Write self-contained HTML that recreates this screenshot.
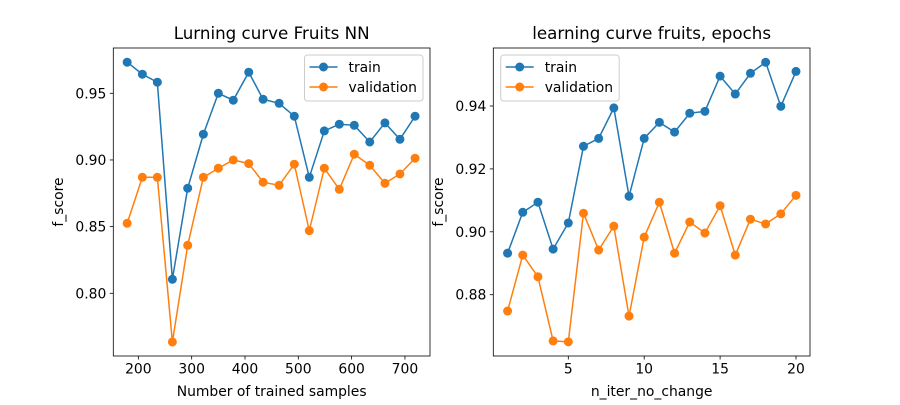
<!DOCTYPE html>
<html><head><meta charset="utf-8"><style>
body{margin:0;background:#fff}
svg{font-family:"DejaVu Sans","Liberation Sans",sans-serif}
</style></head><body>
<svg id="chart" width="900" height="400" viewBox="0 0 900 400"></svg>
<script>
const leftX=[179,207.5,235.6,263.8,292.5,321.9,350,378,407,434,464,492.5,520.6,548.8,576.9,605,634,662.5,690.6,719];
const leftTrain=[0.9733,0.9643,0.9583,0.8105,0.8788,0.9193,0.95,0.9448,0.9658,0.9455,0.9425,0.9328,0.887,0.9218,0.9268,0.926,0.9135,0.9278,0.9155,0.9328];
const leftVal=[0.8525,0.887,0.887,0.7635,0.836,0.887,0.8938,0.9,0.8973,0.8833,0.881,0.8968,0.847,0.8938,0.878,0.9043,0.896,0.8825,0.8895,0.9013];
const leftXTicks=[200,300,400,500,600,700];
const leftYTicks=[0.80,0.85,0.90,0.95];
const rightX=[1,2,3,4,5,6,7,8,9,10,11,12,13,14,15,16,17,18,19,20];
const rightTrain=[0.8932,0.9062,0.9094,0.8945,0.9028,0.9272,0.9297,0.9394,0.9113,0.9297,0.9348,0.9317,0.9377,0.9383,0.9495,0.9438,0.9504,0.9539,0.9399,0.951];
const rightVal=[0.8748,0.8926,0.8857,0.8653,0.865,0.9059,0.8942,0.9018,0.8732,0.8983,0.9094,0.8932,0.9031,0.8996,0.9083,0.8926,0.904,0.9025,0.9057,0.9116];
const rightXTicks=[5,10,15,20];
const rightYTicks=[0.88,0.90,0.92,0.94];

const NS="http://www.w3.org/2000/svg";
const svg=document.getElementById('chart');
function el(tag,attrs,parent){const e=document.createElementNS(NS,tag);for(const k in attrs)e.setAttribute(k,attrs[k]);(parent||svg).appendChild(e);return e;}

function panel(cfg){
  const g=el('g',{});
  
  
  const L=cfg.L,R=cfg.R,T=cfg.T,B=cfg.B;
  const sx=v=>L+(v-cfg.xmin)/(cfg.xmax-cfg.xmin)*(R-L);
  const sy=v=>B-(v-cfg.ymin)/(cfg.ymax-cfg.ymin)*(B-T);
  const series=[[cfg.train,'#1f77b4','train'],[cfg.val,'#ff7f0e','validation']];
  series.forEach(([ys,c,n])=>{
    const line=el('polyline',{points:cfg.xs.map((x,i)=>sx(x)+','+sy(ys[i])).join(' '),fill:'none',stroke:c,'stroke-width':1.5},g);
    
    
    cfg.xs.forEach((x,i)=>{
      const p=el('circle',{cx:sx(x),cy:sy(ys[i]),r:4.5,fill:c},g);
      
      
    });
  });
  const frame=el('rect',{x:L,y:T,width:R-L,height:B-T,fill:'none',stroke:'#000','stroke-width':0.8},g);
  
  
  cfg.xticks.forEach(v=>{
    const x=sx(v);
    el('line',{x1:x,x2:x,y1:B,y2:B+3.5,stroke:'#000','stroke-width':0.8},g);
    const t=el('text',{x:x,y:B+17.5,'text-anchor':'middle','font-size':13.9},g);
    t.textContent=String(v);
    
    
  });
  cfg.yticks.forEach(v=>{
    const y=sy(v);
    el('line',{x1:L-3.5,x2:L,y1:y,y2:y,stroke:'#000','stroke-width':0.8},g);
    const t=el('text',{x:L-7,y:y+5,'text-anchor':'end','font-size':13.9},g);
    t.textContent=v.toFixed(2);
    
    
  });
  const title=el('text',{x:(L+R)/2,y:T-9,'text-anchor':'middle','font-size':16.7},g);
  title.textContent=cfg.title;
  
  
  const xl=el('text',{x:(L+R)/2,y:396,'text-anchor':'middle','font-size':13.9},g);
  xl.textContent=cfg.xlabel;
  
  
  const cy=(T+B)/2;
  const yl=el('text',{x:cfg.ylx,y:cy,'text-anchor':'middle','font-size':13.9,transform:'rotate(-90 '+cfg.ylx+' '+cy+')'},g);
  yl.textContent='f_score';
  
  
  const lg=el('g',{},g);
  
  
  el('rect',{x:cfg.lgx,y:55,width:118.5,height:46,rx:3,fill:'#fff','fill-opacity':0.8,stroke:'#ccc','stroke-width':1},lg);
  series.forEach(([ys,c,n],i)=>{
    const yy=67+i*20;
    const e=el('g',{},lg);
    
    
    el('line',{x1:cfg.lgx+5,x2:cfg.lgx+33,y1:yy,y2:yy,stroke:c,'stroke-width':1.5},e);
    el('circle',{cx:cfg.lgx+19,cy:yy,r:4.5,fill:c},e);
    const t=el('text',{x:cfg.lgx+44,y:yy+5,'font-size':13.9},e);
    t.textContent=n;
  });
}
panel({name:'left-chart',L:113.3,R:430,T:48,B:356,
  xmin:153,xmax:747,
  ymin:0.80-(356-293.3)/1333.3,ymax:0.95+(93.3-48)/1333.3,
  xs:leftX,train:leftTrain,val:leftVal,xticks:leftXTicks,yticks:leftYTicks,
  title:'Lurning curve Fruits NN',xlabel:'Number of trained samples',ylx:63,lgx:304.5});
panel({name:'right-chart',L:493.3,R:810,T:48,B:356,
  xmin:5-(568.3-493.3)/15.18,xmax:20+(810-796)/15.18,
  ymin:0.88-(356-294.7)/3145,ymax:0.94+(106-48)/3145,
  xs:rightX,train:rightTrain,val:rightVal,xticks:rightXTicks,yticks:rightYTicks,
  title:'learning curve fruits, epochs',xlabel:'n_iter_no_change',ylx:443,lgx:500.7});
</script>
</body></html>
